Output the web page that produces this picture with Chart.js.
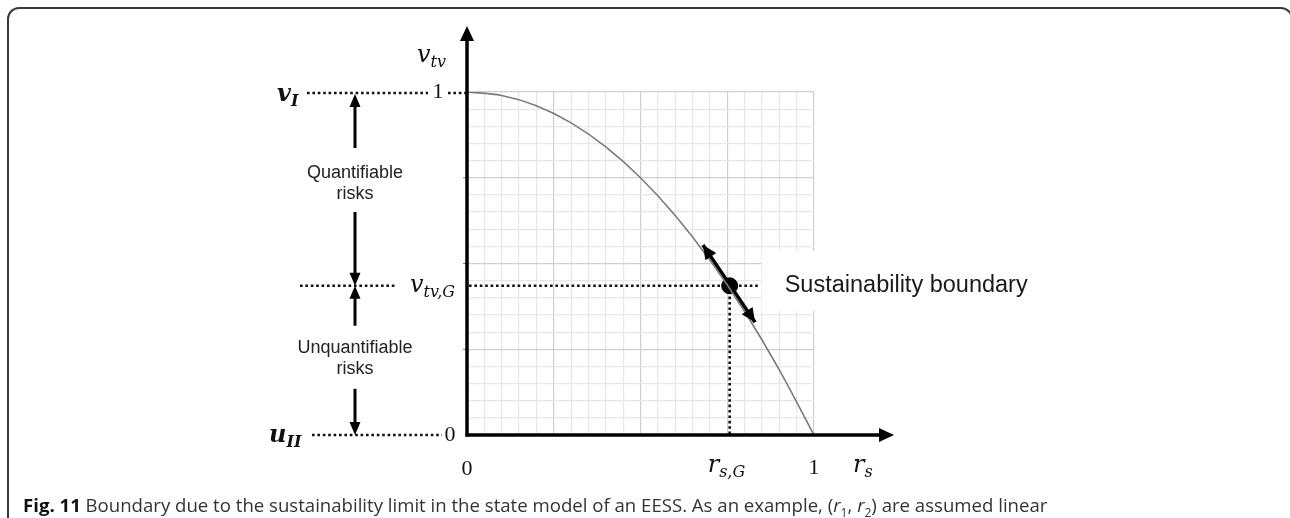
<!DOCTYPE html>
<html>
<head>
<meta charset="utf-8">
<script src="https://cdn.jsdelivr.net/npm/chart.js@4/dist/chart.umd.min.js"></script>
<style>
  html, body { margin: 0; padding: 0; background: #fff; }
  body { width: 1290px; height: 518px; position: relative; overflow: hidden; }
  #frame { position: absolute; left: 7px; top: 7px; width: 1286px; height: 600px; box-sizing: border-box;
           border: 2px solid #3a3a3a; border-radius: 12px; }
  #wrap { position: absolute; left: 0; top: 0; width: 1290px; height: 518px; }
  #caption { position: absolute; left: 23px; top: 493px; font-family: "Open Sans", sans-serif; font-size: 18.6px;
             line-height: 24px; color: #333; white-space: nowrap; }
  #caption b { color: #111; }
  #caption sub { font-size: 12px; line-height: 0; }
</style>
</head>
<body>
<div id="frame"></div>
<div id="wrap"><canvas id="c" width="1290" height="518"></canvas></div>
<div id="caption"><b>Fig. 11</b> Boundary due to the sustainability limit in the state model of an EESS. As an example, (<i>r</i><sub>1</sub>, <i>r</i><sub>2</sub>) are assumed linear</div>
<script>
// ---- data ----
const curveR = [0, 0.1, 0.2, 0.3, 0.4, 0.5, 0.6, 0.7, 0.8, 0.9, 1.0];
const curveV = [1.0, 0.99, 0.96, 0.91, 0.84, 0.75, 0.64, 0.51, 0.36, 0.19, 0.0];
const pointR = [0.757];
const pointV = [0.435];
const tangentR = [0.68, 0.83];
const tangentV = [0.554, 0.329];
const xTickLabels = ['0', '1'];
const yTickLabels = ['0', '1'];
const gridStep = 0.05;
const majorStep = 0.25;

const SERIF = '"DejaVu Serif", "Liberation Serif", serif';
const NUMF = '"Liberation Serif", serif';
const SANS = '"Liberation Sans", Arial, sans-serif';

function arrowHead(ctx, x1, y1, x2, y2, len, half) {
  const a = Math.atan2(y2 - y1, x2 - x1);
  ctx.beginPath();
  ctx.moveTo(x2, y2);
  ctx.lineTo(x2 - len * Math.cos(a) + half * Math.sin(a), y2 - len * Math.sin(a) - half * Math.cos(a));
  ctx.lineTo(x2 - len * Math.cos(a) - half * Math.sin(a), y2 - len * Math.sin(a) + half * Math.cos(a));
  ctx.closePath();
  ctx.fill();
}
function arrow(ctx, x1, y1, x2, y2, w, len, half) {
  const a = Math.atan2(y2 - y1, x2 - x1);
  ctx.lineWidth = w;
  ctx.beginPath();
  ctx.moveTo(x1, y1);
  ctx.lineTo(x2 - (len - 1) * Math.cos(a), y2 - (len - 1) * Math.sin(a));
  ctx.stroke();
  arrowHead(ctx, x1, y1, x2, y2, len, half);
}
function dotted(ctx, x1, y1, x2, y2) {
  ctx.save();
  ctx.strokeStyle = '#111';
  ctx.lineWidth = 2.6;
  ctx.setLineDash([2.6, 2.8]);
  ctx.beginPath();
  ctx.moveTo(x1, y1);
  ctx.lineTo(x2, y2);
  ctx.stroke();
  ctx.restore();
}
// math label: base + subscript, left aligned at x, baseline y
function mathLabel(ctx, base, sub, x, y, bold, size) {
  size = size || 24;
  const st = bold ? 'italic bold ' : 'italic ';
  ctx.font = st + size + 'px ' + SERIF;
  ctx.textAlign = 'left';
  ctx.textBaseline = 'alphabetic';
  ctx.fillText(base, x, y);
  const w = ctx.measureText(base).width;
  ctx.font = st + Math.round(size * 0.66) + 'px ' + SERIF;
  ctx.fillText(sub, x + w, y + 5);
}

const overlay = {
  id: 'overlay',
  beforeDatasetsDraw(chart) {
    const ctx = chart.ctx;
    const xs = chart.scales.x, ys = chart.scales.y;
    const X0 = xs.getPixelForValue(0);
    const Y0 = ys.getPixelForValue(0), Y1 = ys.getPixelForValue(1);
    const px = xs.getPixelForValue(pointR[0]), py = ys.getPixelForValue(pointV[0]);
    ctx.save();
    // white label box
    ctx.fillStyle = '#fff';
    ctx.fillRect(px + 32, py - 35, 280, 60);
    // guide lines
    dotted(ctx, X0 - 160, Y1 + 1, X0 - 39, Y1 + 1);
    dotted(ctx, X0 - 19, Y1 + 1, X0, Y1 + 1);
    dotted(ctx, X0 - 155, Y0, X0 - 25, Y0);
    dotted(ctx, X0 - 167, py, X0 - 72, py);
    dotted(ctx, X0 + 2, py, px + 30, py);
    dotted(ctx, px, py, px, Y0);
    // small ticks on y axis
    ctx.strokeStyle = '#777';
    ctx.lineWidth = 1;
    [0.25, 0.5, 0.75].forEach(v => {
      const y = ys.getPixelForValue(v);
      ctx.beginPath(); ctx.moveTo(X0 - 4, y); ctx.lineTo(X0, y); ctx.stroke();
    });
    ctx.restore();
  },
  afterDatasetsDraw(chart) {
    const ctx = chart.ctx;
    const xs = chart.scales.x, ys = chart.scales.y;
    const X0 = xs.getPixelForValue(0), X1 = xs.getPixelForValue(1);
    const Y0 = ys.getPixelForValue(0), Y1 = ys.getPixelForValue(1);
    const px = xs.getPixelForValue(pointR[0]), py = ys.getPixelForValue(pointV[0]);
    ctx.save();
    ctx.fillStyle = '#000';
    ctx.strokeStyle = '#000';
    // tangent arrow heads
    const tm = chart.getDatasetMeta(1).data;
    arrowHead(ctx, tm[1].x, tm[1].y, tm[0].x, tm[0].y, 14, 6.5);
    arrowHead(ctx, tm[0].x, tm[0].y, tm[1].x, tm[1].y, 14, 6.5);
    // axes
    arrow(ctx, X0, Y0 + 1.5, X0, 26, 3.5, 15, 7);
    arrow(ctx, X0 - 1.5, Y0, 894, Y0, 3.5, 15, 7);
    // left side risk arrows
    const ax = X0 - 112;
    arrow(ctx, ax, Y1 + 56, ax, Y1 + 2, 3, 13, 5.5);
    arrow(ctx, ax, Y1 + 120, ax, py, 3, 13, 5.5);
    arrow(ctx, ax, py + 40, ax, py, 3, 13, 5.5);
    arrow(ctx, ax, py + 103, ax, Y0, 3, 13, 5.5);
    ctx.font = '18px ' + SANS;
    ctx.fillStyle = '#222';
    ctx.textAlign = 'center';
    ctx.textBaseline = 'middle';
    ctx.fillText('Quantifiable', ax, Y1 + 81);
    ctx.fillText('risks', ax, Y1 + 102);
    ctx.fillText('Unquantifiable', ax, py + 62);
    ctx.fillText('risks', ax, py + 83);
    // sustainability label
    ctx.font = '23.5px ' + SANS;
    ctx.textAlign = 'left';
    ctx.fillStyle = '#1a1a1a';
    ctx.fillText('Sustainability boundary', px + 55, py);
    // tick numbers
    ctx.fillStyle = '#111';
    ctx.font = '22px ' + NUMF;
    ctx.textAlign = 'center';
    ctx.textBaseline = 'middle';
    ctx.fillText(yTickLabels[1], X0 - 29, Y1);
    ctx.fillText(yTickLabels[0], X0 - 17, Y0);
    ctx.fillText(xTickLabels[0], X0, Y0 + 34);
    ctx.fillText(xTickLabels[1], X1, Y0 + 33);
    // math labels
    ctx.fillStyle = '#111';
    mathLabel(ctx, 'v', 'I', X0 - 190, Y1 + 9, true);
    mathLabel(ctx, 'u', 'II', X0 - 198, Y0 + 7, true);
    mathLabel(ctx, 'v', 'tv,G', X0 - 57, py + 6, false);
    mathLabel(ctx, 'v', 'tv', X0 - 50, 62, false);
    mathLabel(ctx, 'r', 's,G', px - 22, Y0 + 37, false);
    mathLabel(ctx, 'r', 's', X1 + 39, Y0 + 37, false);
    ctx.restore();
  }
};

const gridColor = ctx => {
  const v = ctx.tick ? ctx.tick.value : 0;
  const k = Math.round(v / gridStep);
  return (k % Math.round(majorStep / gridStep) === 0) ? '#cfcfcf' : '#e7e7e7';
};

new Chart(document.getElementById('c'), {
  type: 'scatter',
  data: {
    datasets: [
      {
        data: curveR.map((r, i) => ({ x: r, y: curveV[i] })),
        showLine: true, borderColor: '#7a7a7a', borderWidth: 1.6,
        pointRadius: 0, cubicInterpolationMode: 'monotone'
      },
      {
        data: tangentR.map((r, i) => ({ x: r, y: tangentV[i] })),
        showLine: true, borderColor: '#000', borderWidth: 3.5, pointRadius: 0
      },
      {
        data: pointR.map((r, i) => ({ x: r, y: pointV[i] })),
        pointRadius: 8, backgroundColor: '#000', borderColor: '#000'
      }
    ]
  },
  options: {
    responsive: false,
    animation: false,
    devicePixelRatio: 1,
    layout: { padding: { left: 467, right: 476, top: 92, bottom: 83 } },
    plugins: { legend: { display: false }, tooltip: { enabled: false } },
    scales: {
      x: {
        type: 'linear', min: 0, max: 1,
        ticks: { display: false, stepSize: gridStep },
        grid: { color: gridColor, lineWidth: 1.2, drawTicks: false },
        border: { display: false }
      },
      y: {
        type: 'linear', min: 0, max: 1,
        ticks: { display: false, stepSize: gridStep },
        grid: { color: gridColor, lineWidth: 1.2, drawTicks: false },
        border: { display: false }
      }
    }
  },
  plugins: [overlay]
});
</script>
</body>
</html>
